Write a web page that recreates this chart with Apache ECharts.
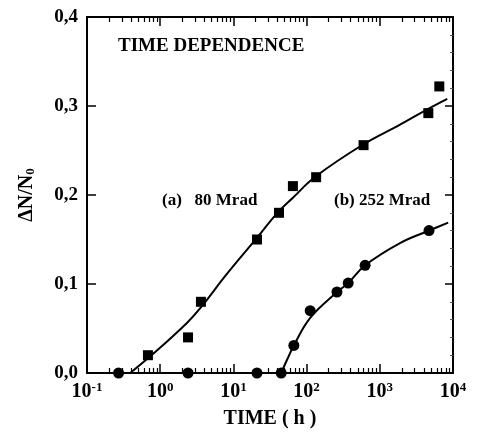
<!DOCTYPE html>
<html>
<head>
<meta charset="utf-8">
<script src="https://cdn.jsdelivr.net/npm/echarts@6/dist/echarts.min.js"></script>
<style>
  html, body { margin: 0; padding: 0; background: #fff; }
  #chart { width: 485px; height: 434px; }
</style>
</head>
<body>
<div id="chart"></div>
<script>
var FONT = '"Liberation Serif", "DejaVu Serif", serif'

// measured points, (a) 80 Mrad -> squares, (b) 252 Mrad -> circles
var timeA = [0.68, 2.4, 3.6, 21, 42, 65, 135, 600, 4600, 6500]
var valA = [0.020, 0.040, 0.080, 0.150, 0.180, 0.210, 0.220, 0.256, 0.292, 0.322]
var timeB = [0.27, 2.4, 21, 45, 67, 112, 260, 370, 630, 4700]
var valB = [0, 0, 0, 0, 0.031, 0.070, 0.091, 0.101, 0.121, 0.160]

// fitted curves
var fitTimeA = [0.39, 0.8, 2.3, 3.5, 8.1, 20.8, 41, 65, 134, 600, 1890, 4650, 8350]
var fitA = [0, 0.0215, 0.056, 0.0725, 0.111, 0.1515, 0.181, 0.197, 0.221, 0.257, 0.279, 0.297, 0.308]
var fitTimeB = [45, 53.5, 67, 112, 260, 370, 630, 1890, 4700, 8600]
var fitB = [0, 0.014, 0.031, 0.062, 0.091, 0.101, 0.121, 0.146, 0.160, 0.169]

var decades = [0.1, 1, 10, 100, 1000, 10000]

// minor ticks of the log axis: 2..9 in every decade
var minorTicks = []
decades.slice(0, -1).forEach(function (d) {
    for (var k = 2; k <= 9; k++) minorTicks.push(+(d * k).toPrecision(3))
})

function pairs(xs, ys) {
    return xs.map(function (x, i) { return [x, ys[i]] })
}

var chart = echarts.init(document.getElementById('chart'))

var lineStyle = { color: '#000', width: 2 }

function xAxisOf(pos, minor) {
    var main = pos === 'bottom' && !minor
    return {
        type: 'log', logBase: 10, min: 0.1, max: 10000,
        position: pos, offset: 0,
        axisLine: { show: !minor, onZero: false, lineStyle: lineStyle },
        axisTick: minor
            ? { show: true, inside: true, length: 5, customValues: minorTicks, lineStyle: { color: '#000', width: 1.2 } }
            : { show: true, inside: true, length: 9, customValues: decades, lineStyle: { color: '#000', width: 1.5 } },
        axisLabel: main ? {
            show: true, margin: 8,
            customValues: decades,
            formatter: function (v) {
                var e = Math.round(Math.log10(v))
                return '{b|10}{s|' + e + '}'
            },
            rich: {
                b: { fontFamily: FONT, fontWeight: 'bold', fontSize: 20, color: '#000', lineHeight: 22 },
                s: { fontFamily: FONT, fontWeight: 'bold', fontSize: 13, color: '#000', verticalAlign: 'top', padding: [0, 0, 8, 0] }
            }
        } : { show: false },
        splitLine: { show: false },
        name: main ? 'TIME ( h )' : '',
        nameLocation: 'middle', nameGap: 36,
        nameTextStyle: { fontFamily: FONT, fontWeight: 'bold', fontSize: 20, color: '#000' }
    }
}

chart.setOption({
    animation: false,
    grid: { left: 87, right: 32, top: 17, bottom: 58 },
    xAxis: [
        xAxisOf('bottom', false),
        xAxisOf('bottom', true),
        xAxisOf('top', false),
        xAxisOf('top', true)
    ],
    yAxis: [
        {
            type: 'value', min: 0, max: 0.4, interval: 0.1, position: 'left',
            axisLine: { show: true, onZero: false, lineStyle: lineStyle },
            axisTick: { show: true, inside: true, length: 9, lineStyle: { color: '#000', width: 1.5 } },
            axisLabel: {
                margin: 9, fontFamily: FONT, fontWeight: 'bold', fontSize: 19, color: '#000',
                formatter: function (v) { return v.toFixed(1).replace('.', ',') }
            },
            splitLine: { show: false },
            name: '{m|ΔN/N}{sub|0}', nameLocation: 'middle', nameRotate: 90, nameGap: 50,
            nameTextStyle: {
                rich: {
                    m: { fontFamily: FONT, fontWeight: 'bold', fontSize: 20, color: '#000' },
                    sub: { fontFamily: FONT, fontWeight: 'bold', fontSize: 13, color: '#000', verticalAlign: 'bottom', padding: [8, 0, 0, 0] }
                }
            }
        },
        {
            type: 'value', min: 0, max: 0.4, interval: 0.1, position: 'right',
            axisLine: { show: true, onZero: false, lineStyle: lineStyle },
            axisTick: { show: true, inside: true, length: 8, lineStyle: { color: '#000', width: 1.5 } },
            minorTick: { show: true, splitNumber: 5, length: 3, lineStyle: { color: '#555', width: 1 } },
            axisLabel: { show: false },
            splitLine: { show: false }
        }
    ],
    graphic: [
        {
            type: 'text', left: 118, top: 37,
            style: { text: 'TIME DEPENDENCE', font: 'bold 19px ' + FONT, fill: '#000' }
        },
        {
            type: 'text', left: 162, top: 192,
            style: { text: '(a)   80 Mrad', font: 'bold 17px ' + FONT, fill: '#000' }
        },
        {
            type: 'text', left: 334, top: 192,
            style: { text: '(b) 252 Mrad', font: 'bold 17px ' + FONT, fill: '#000' }
        }
    ],
    series: [
        {
            name: 'fit a', type: 'line', data: pairs(fitTimeA, fitA),
            showSymbol: false, smooth: 0.4,
            lineStyle: { color: '#000', width: 2 }, z: 3
        },
        {
            name: 'fit b', type: 'line', data: pairs(fitTimeB, fitB),
            showSymbol: false, smooth: 0.4,
            lineStyle: { color: '#000', width: 2 }, z: 3
        },
        {
            name: '80 Mrad', type: 'scatter', data: pairs(timeA, valA),
            symbol: 'rect', symbolSize: 10, clip: false,
            itemStyle: { color: '#000', opacity: 1 }, z: 5
        },
        {
            name: '252 Mrad', type: 'scatter', data: pairs(timeB, valB),
            symbol: 'circle', symbolSize: 11, clip: false,
            itemStyle: { color: '#000', opacity: 1 }, z: 5
        }
    ]
})
</script>
</body>
</html>
